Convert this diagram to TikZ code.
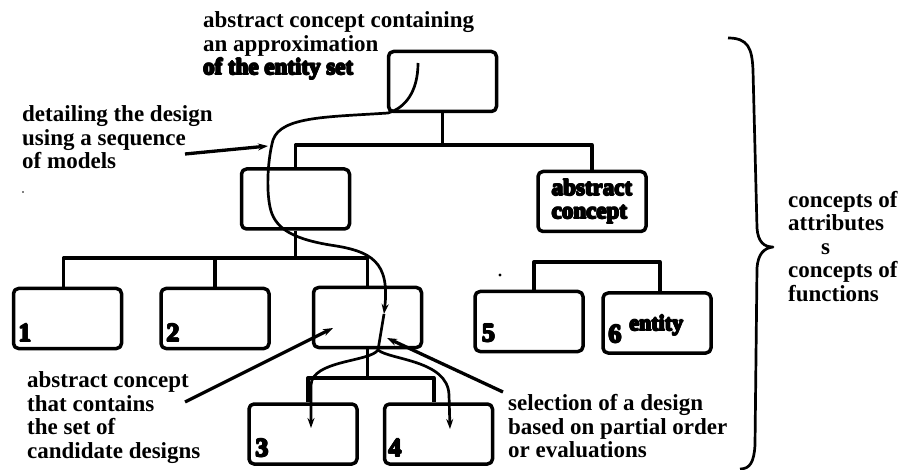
\documentclass[tikz,border=0pt]{standalone}
\usepackage{fontspec}
\setmainfont{Liberation Serif}
\usetikzlibrary{arrows.meta,calc}

\newcommand\lblfont{\bfseries\fontsize{23}{23.5}\selectfont}
\newcommand\digfont{\bfseries\fontsize{26}{26}\selectfont}
% heavier lettering: the bold text set several times with small shifts
\newcommand\thk[1]{\leavevmode
  \rlap{\hspace{0.8pt}#1}\rlap{\hspace{-0.8pt}#1}%
  \rlap{\raisebox{0.8pt}{#1}}\rlap{\raisebox{-0.8pt}{#1}}%
  \rlap{\hspace{0.55pt}\raisebox{0.55pt}{#1}}\rlap{\hspace{-0.55pt}\raisebox{-0.55pt}{#1}}%
  \rlap{\hspace{0.55pt}\raisebox{-0.55pt}{#1}}\rlap{\hspace{-0.55pt}\raisebox{0.55pt}{#1}}%
  #1}

\tikzset{
  box/.style={draw, line width=3.5pt, rounded corners=5pt, minimum width=108pt,
    minimum height=60pt, inner sep=0pt},
  tree/.style={line width=3.3pt},
  flow/.style={line width=2.7pt},
  lbl/.style={font=\lblfont, align=left, anchor=north west, inner sep=0pt},
  num/.style={font=\digfont, anchor=base west, inner sep=0pt},
  tip/.style={-{Stealth[length=10pt,width=7pt]}}
}

\begin{document}
\begin{tikzpicture}[x=1pt,y=-1pt,line join=round]
\useasboundingbox (0,0) rectangle (905,470);

% concept boxes
\node[box] (top) at (442.5,81.5) {};
\node[box] (mid) at (295.5,199) {};
\node[box, font=\lblfont, align=left] (abs) at (592,201.5) {\thk{abstract}\\\thk{concept}};
\node[box] (b1) at (67.5,318.5) {};
\node[box] (b2) at (215,318.5) {};
\node[box] (bc) at (367.5,317.5) {};
\node[box] (b3) at (303,434) {};
\node[box] (b4) at (438.5,434) {};
\node[box] (b5) at (529,321.5) {};
\node[box] (b6) at (657,323) {};

% numbers inside the boxes
\node[num] (n1) at ($(b1.south west)+(6.5,-8.5)$) {\thk{1}};
\node[num] (n2) at ($(b2.south west)+(7,-8.5)$) {\thk{2}};
\node[num] (n3) at ($(b3.south west)+(8,-9)$) {\thk{3}};
\node[num] (n4) at ($(b4.south west)+(5.5,-9)$) {\thk{4}};
\node[num] (n5) at ($(b5.south west)+(8.5,-11.5)$) {\thk{5}};
\node[num] (n6) at ($(b6.south west)+(7,-12)$) {\thk{6}\hspace{8pt}\raisebox{12pt}{\fontsize{22}{22}\selectfont\thk{entity}}};

% tree connectors
\coordinate (bus1) at (443,145);
\draw[tree] (top.south) -- (top.south |- bus1);
\draw[tree] (mid.north) |- (bus1) -| (abs.north);

\coordinate (bus2) at (295,258);
\draw[tree] (mid.south) -- (mid.south |- bus2);
\draw[tree] ($(b1.north)+(-4,0)$) |- (bus2) -| (bc.north);
\draw[tree] (b2.north) -- (b2.north |- bus2);

\coordinate (bus3) at (368,378);
\draw[tree] (bc.south) -- (bc.south |- bus3);
\draw[tree] ($(b3.north)+(5,0)$) |- (bus3) -| ($(b4.north)+(-4.5,0)$);

\coordinate (bus4) at (594,262);
\draw[tree] ($(abs.south)+(2,0)$) -- ($(abs.south)+(2,0)$ |- bus4);
\draw[tree] ($(b5.north)+(5,0)$) |- (bus4) -| ($(b6.north)+(3,0)$);

% design flow through the hierarchy
\coordinate (f0) at (418,63);
\coordinate (fa) at (384,314);
\coordinate (split) at (378,350);
\draw[flow, tip] (f0) .. controls (418,92) and (405,108) .. (388,113)
  .. controls (330,117) and (281,116) .. (273,140)
  .. controls (268,158) and (266,188) .. (270,207)
  .. controls (274,226) and (288,238) .. (330,245)
  .. controls (372,251) and (390,262) .. (fa);
\draw[flow] (fa) -- (split);
\coordinate (l3) at (311,428);
\coordinate (l4) at (450,429);
\draw[flow, tip] (split) .. controls (370,362) and (312,360) .. (311,385) -- (l3);
\draw[flow, tip] (split) .. controls (390,360) and (448,360) .. (449,395) -- (l4);

% labels
\node[lbl] (ltop) at (203,11.5) {abstract concept containing\\an approximation\\\thk{of the entity set}};
\node[lbl] (ldet) at (22,105.5) {detailing the design\\using a sequence\\of models};
\node[lbl] (lcand) at (27,371.5) {abstract concept\\that contains\\the set of\\candidate designs};
\node[lbl] (lsel) at (508,394.5) {selection of a design\\based on partial order\\or evaluations};
\node[lbl] (lcon) at (788,191) {concepts of\\attributes\\\hspace*{33pt}s\\concepts of\\functions};

% label pointers
\coordinate (d0) at (185,154);
\coordinate (d1) at (268,146);
\draw[tree, tip] (d0) -- (d1);
\coordinate (c0) at (185,402);
\coordinate (c1) at (333,328);
\draw[tree, tip] (c0) -- (c1);
\coordinate (s0) at (503,392);
\coordinate (s1) at (387,338);
\draw[tree, tip] (s0) -- (s1);

% brace grouping the hierarchy
\coordinate (bt) at (728,38);
\coordinate (bm) at (773,247);
\coordinate (bb) at (740,469);
\draw[line width=2.7pt] (bt) .. controls (748,38) and (752,48) .. (753,70)
  -- (757,228) .. controls (758,242) and (764,247) .. (bm)
  .. controls (764,248) and (758,254) .. (757,268)
  -- (755,445) .. controls (754,462) and (750,469) .. (bb);

% specks
\fill (23,192) circle (0.8);
\fill (500,275) circle (1.6);
\end{tikzpicture}
\end{document}
